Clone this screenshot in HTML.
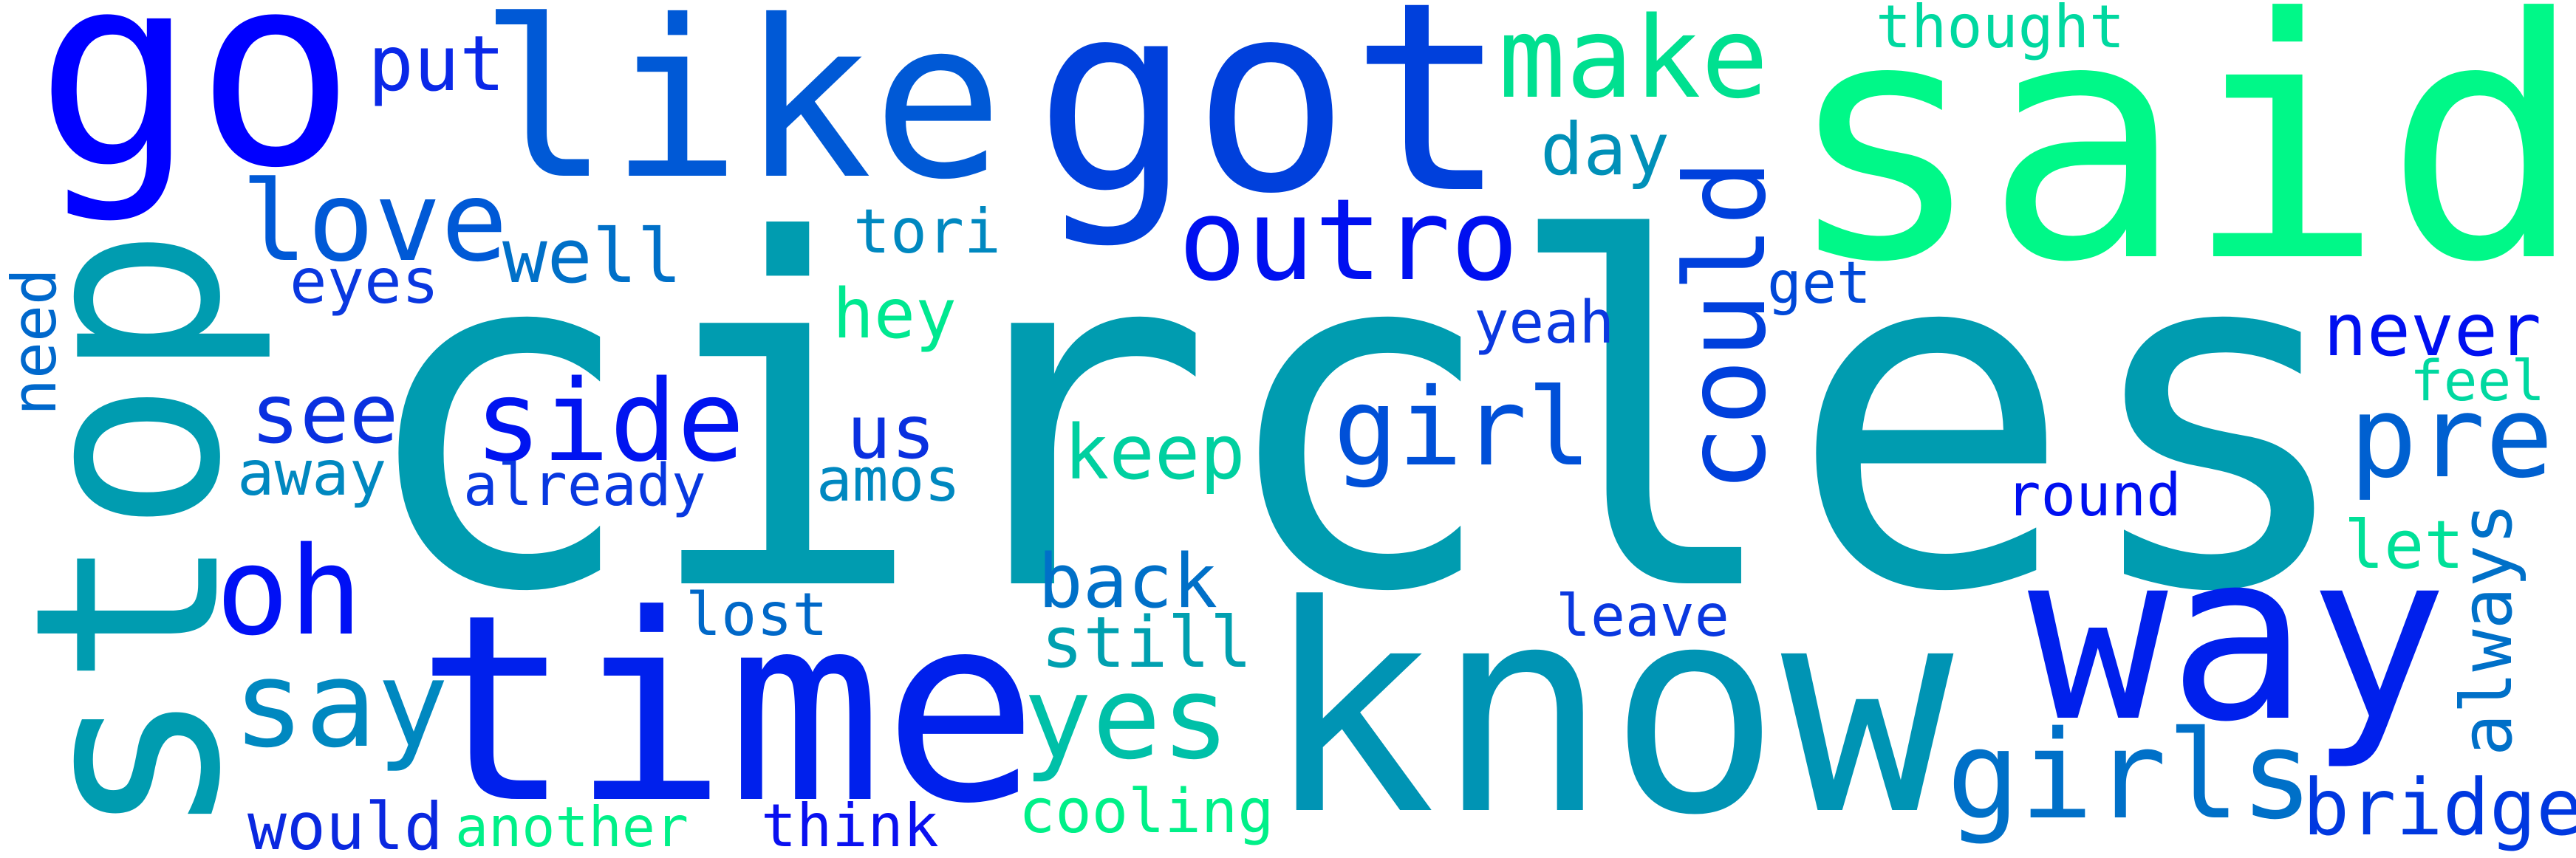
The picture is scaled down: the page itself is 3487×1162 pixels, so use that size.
<!DOCTYPE html>
<html><head><meta charset="utf-8"><style>
html,body{margin:0;padding:0;background:#fff;}
svg{display:block;}
text{font-family:"DejaVu Sans Mono","Liberation Mono",monospace;}
</style></head><body>
<svg width="3487" height="1162" viewBox="0 0 3487 1162" xmlns="http://www.w3.org/2000/svg">
<rect width="3487" height="1162" fill="#ffffff"/>
<text x="478" y="790" font-size="645" fill="#009cb0">circles</text>
<text x="2415" y="347" font-size="450" fill="#00f888">said</text>
<text x="1710" y="1097" font-size="388" fill="#0094b4">know</text>
<text x="563" y="1082" font-size="350" fill="#0020ec">time</text>
<text x="1400" y="256" font-size="355" fill="#0040dc">got</text>
<text x="648" y="238" font-size="295" fill="#0059d6">like</text>
<text x="48" y="221" font-size="360" fill="#0000ff">go</text>
<text transform="translate(293,1138) rotate(-90)" font-size="345" fill="#009cb0">stop</text>
<text x="2745" y="972" font-size="315" fill="#0020ec">way</text>
<text x="1595" y="378" font-size="153" fill="#0010f0">outro</text>
<text x="326" y="352" font-size="150" fill="#0059d6">love</text>
<text x="2028" y="131" font-size="152" fill="#00e090">make</text>
<text x="2539" y="64" font-size="80" fill="#00d8a0">thought</text>
<text x="498" y="122" font-size="103" fill="#0a28e8">put</text>
<text x="2085" y="236" font-size="97" fill="#0090b8">day</text>
<text transform="translate(2388,667) rotate(-90)" font-size="150" fill="#0040dc">could</text>
<text x="680" y="382" font-size="101" fill="#0070c8">well</text>
<text x="1155" y="342" font-size="83" fill="#0088c0">tori</text>
<text x="392" y="410" font-size="84" fill="#0a38e0">eyes</text>
<text x="1127" y="457" font-size="93" fill="#00e890">hey</text>
<text x="2392" y="410" font-size="78" fill="#0048d8">get</text>
<text x="1995" y="464" font-size="79" fill="#0a38e0">yeah</text>
<text x="3145" y="481" font-size="98" fill="#0010f0">never</text>
<text transform="translate(75,563) rotate(-90)" font-size="83" fill="#0068cc">need</text>
<text x="642" y="623" font-size="152" fill="#0014f0">side</text>
<text x="339" y="599" font-size="111" fill="#0a30e0">see</text>
<text x="1146" y="620" font-size="100" fill="#0a30e0">us</text>
<text x="1440" y="648" font-size="102" fill="#00d0a0">keep</text>
<text x="1805" y="629" font-size="145" fill="#0050d8">girl</text>
<text x="3180" y="645" font-size="153" fill="#0060d0">pre</text>
<text x="3262" y="542" font-size="76" fill="#00d8a0">feel</text>
<text x="321" y="670" font-size="84" fill="#0088c0">away</text>
<text x="627" y="684" font-size="78" fill="#0838e0">already</text>
<text x="1105" y="678" font-size="81" fill="#0088c0">amos</text>
<text x="2715" y="698" font-size="79" fill="#0010f0">round</text>
<text x="3173" y="769" font-size="90" fill="#00e098">let</text>
<text transform="translate(3399,1024) rotate(-90)" font-size="95" fill="#0070c8">always</text>
<text x="292" y="858" font-size="165" fill="#0010f5">oh</text>
<text x="1405" y="822" font-size="101" fill="#0070c8">back</text>
<text x="928" y="860" font-size="80" fill="#0068c8">lost</text>
<text x="2106" y="861" font-size="78" fill="#0a38e0">leave</text>
<text x="1409" y="903" font-size="95" fill="#00a0b0">still</text>
<text x="315" y="1010" font-size="162" fill="#0088c0">say</text>
<text x="1385" y="1026" font-size="155" fill="#00c0a8">yes</text>
<text x="2635" y="1107" font-size="165" fill="#0070c8">girls</text>
<text x="3117" y="1130" font-size="105" fill="#0038e0">bridge</text>
<text x="335" y="1150" font-size="88" fill="#0a28e0">would</text>
<text x="616" y="1146" font-size="75" fill="#00f088">another</text>
<text x="1030" y="1146" font-size="80" fill="#0a10f0">think</text>
<text x="1379" y="1127" font-size="82" fill="#00f088">cooling</text>
</svg>
</body></html>
